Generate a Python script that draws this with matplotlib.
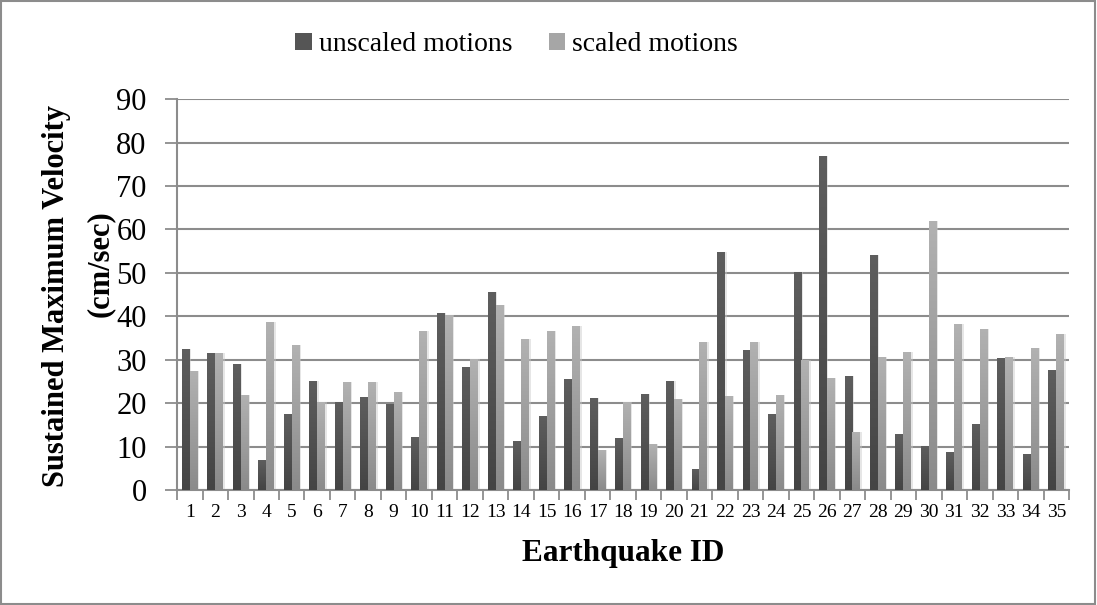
import numpy as np
import matplotlib
matplotlib.use("Agg")
import matplotlib.pyplot as plt
from matplotlib.colors import LinearSegmentedColormap
from matplotlib.patches import Patch, Rectangle

quake_ids = [str(i) for i in range(1, 36)]
unscaled = [32.5, 31.6, 29.1, 6.9, 17.5, 25.2, 20.3, 21.5, 19.9, 12.2,
            40.8, 28.4, 45.7, 11.3, 17.1, 25.6, 21.2, 12.0, 22.2, 25.2,
            4.8, 54.8, 32.3, 17.5, 50.2, 77.0, 26.3, 54.1, 12.9, 10.2,
            8.8, 15.2, 30.5, 8.3, 27.7]
scaled = [27.5, 31.6, 21.9, 38.8, 33.5, 20.3, 24.9, 24.9, 22.6, 36.7,
          40.2, 30.2, 42.5, 34.8, 36.7, 37.8, 9.2, 20.3, 10.6, 21.0,
          34.2, 21.7, 34.2, 21.9, 30.0, 25.8, 13.4, 30.7, 31.8, 62.0,
          38.2, 37.2, 30.7, 32.8, 36.0]

plt.rcParams['font.family'] = ['Liberation Serif', 'DejaVu Serif']

fig = plt.figure(figsize=(10.97, 6.05), dpi=100)
ax = fig.add_axes([0.1614, 0.190, 0.8131, 0.646])

x = np.arange(1, len(quake_ids) + 1)
w = 0.31

# vertical gradients, lighter at the top
dark_cmap = LinearSegmentedColormap.from_list("dark", ["#444444", "#5e5e5e"])
light_cmap = LinearSegmentedColormap.from_list("light", ["#8a8a8a", "#b2b2b2"])
grad = np.linspace(0, 1, 256).reshape(-1, 1)


def gradient_bars(xpos, vals, cmap):
    bars = ax.bar(xpos, vals, width=w, color="none", edgecolor="none", zorder=3)
    for b in bars:
        x0, h = b.get_x(), b.get_height()
        # soft drop shadow on the right
        ax.add_patch(Rectangle((x0 + 0.06, 0), w, h, facecolor="#c8c8c8",
                               edgecolor="none", alpha=0.45, zorder=2.5))
        im = ax.imshow(grad, extent=[x0, x0 + w, 0, h], origin="lower",
                       cmap=cmap, aspect="auto", zorder=3)
        im.set_clip_path(b)
    return bars


gradient_bars(x - w / 2, unscaled, dark_cmap)
gradient_bars(x + w / 2, scaled, light_cmap)

ax.set_xlim(0.5, 35.5)
ax.set_ylim(0, 90)
ax.set_yticks(np.arange(0, 91, 10))
ax.yaxis.grid(True, color="#8c8c8c", linewidth=1.5, zorder=0)
ax.set_axisbelow(True)

ax.set_xticks(x)
ax.set_xticklabels(quake_ids, fontsize=14)
ax.set_xticks(np.arange(0.5, 36, 1), minor=True)
ax.tick_params(axis="x", which="major", length=0, pad=10)
ax.tick_params(axis="x", which="minor", length=7, width=1.3, color="#8c8c8c")
ax.tick_params(axis="y", length=9, width=1.3, color="#8c8c8c", labelsize=22, pad=13)

for side in ("top", "right"):
    ax.spines[side].set_visible(False)
for side in ("left", "bottom"):
    ax.spines[side].set_color("#8c8c8c")
    ax.spines[side].set_linewidth(1.5)

# two-line y title, each line placed on its own
fig.text(57 / 1097, 1 - 296 / 605, "Sustained Maximum Velocity", rotation=90,
         ha="center", va="center", fontsize=22, fontweight="bold")
fig.text(100 / 1097, 1 - 264 / 605, "(cm/sec)", rotation=90,
         ha="center", va="center", fontsize=22, fontweight="bold")
ax.set_xlabel("Earthquake ID", fontsize=22.5, fontweight="bold", labelpad=13)

handles = [Patch(facecolor="#555555", label="unscaled motions"),
           Patch(facecolor="#a6a6a6", label="scaled motions")]
fig.legend(handles=handles, loc="center", bbox_to_anchor=(0.471, 0.926), ncol=2,
           frameon=False, fontsize=20, handlelength=0.6, handleheight=0.6,
           handletextpad=0.25, columnspacing=1.3)

fig.add_artist(Rectangle((0.001, 0.002), 0.997, 0.996, transform=fig.transFigure,
                         fill=False, edgecolor="#8c8c8c", linewidth=1.5))

fig.savefig("out.png", dpi=100)
